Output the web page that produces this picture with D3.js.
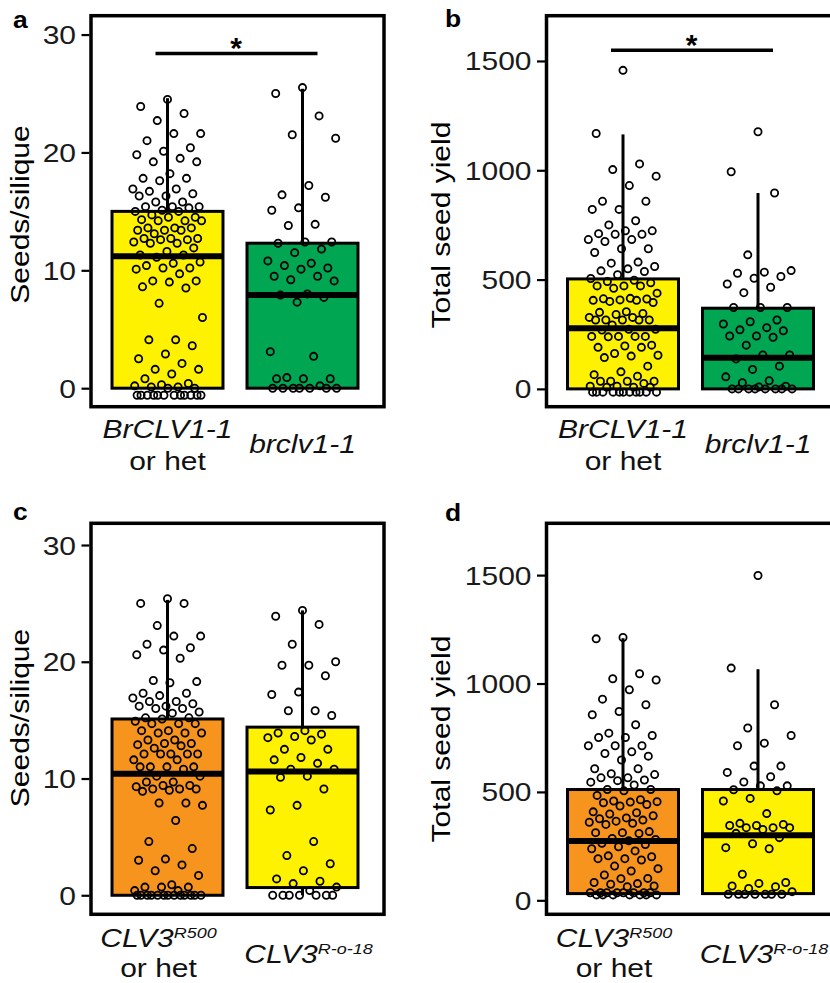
<!DOCTYPE html>
<html>
<head>
<meta charset="utf-8">
<script src="https://cdn.jsdelivr.net/npm/d3@7"></script>
<style>
  body { margin: 0; background: #fff; }
  svg { display: block; }
</style>
</head>
<body>
<div id="chart"></div>
<script>
const yellow = '#fff200'
const green = '#00a651'
const orange = '#f7941d'

const seedTicks = [0, 10, 20, 30]
const yieldTicks = [0, 500, 1000, 1500]

// genotype labels (main text, superscript, second line)
const clv1Labels = [
  {main: 'BrCLV1-1', sup: '', second: 'or het'},
  {main: 'brclv1-1', sup: '', second: ''}
]
const clv3Labels = [
  {main: 'CLV3', sup: 'R500', second: 'or het'},
  {main: 'CLV3', sup: 'R-o-18', second: ''}
]

// box stats: [low whisker, q1, median, q3, high whisker]
const aBoxes = [[0, 0, 11.2, 15.0, 24.6], [0, 0, 7.9, 12.3, 25.4]]
const bBoxes = [[0, 0, 277, 503, 1164], [0, 0, 142, 369, 896]]
const cBoxes = [[0, 0, 10.4, 15.1, 25.3], [0, 0.66, 10.6, 14.4, 24.4]]
const dBoxes = [[25, 31, 274, 511, 1209], [25, 31, 300, 511, 1066]]

// height of the significance bars
const aSig = 28.4
const bSig = 1549

// jittered points, as plotted
const aWildSeeds = [24.5, 23.9, 23.3, 22.7, 21.6, 21.6, 21.0, 20.4, 20.1, 19.8, 19.5, 19.2, 19.2, 18.2, 17.8, 17.8, 17.6, 16.9, 16.9, 16.7, 16.5, 16.3, 16.3, 15.8, 15.8, 15.4, 15.4, 15.4, 15.3, 15.1, 15.0, 15.0, 14.7, 14.5, 14.5, 14.3, 14.2, 14.2, 14.2, 13.6, 13.6, 13.6, 13.4, 13.4, 13.4, 13.1, 12.7, 12.7, 12.7, 12.6, 12.6, 12.4, 12.3, 12.3, 11.9, 11.6, 11.3, 11.3, 11.1, 10.7, 10.6, 10.4, 10.2, 10.2, 10.1, 9.7, 9.1, 9.1, 9.0, 8.6, 8.5, 7.2, 6.0, 4.1, 4.1, 3.6, 2.9, 2.5, 2.1, 1.6, 1.6, 1.2, 0.8, 0.4, 0.3, 0.2, 0.1, 0.1, 0, 0, -0.6, -0.6, -0.6, -0.6, -0.6, -0.6, -0.6, -0.6, -0.6, -0.6, -0.6, -0.6]
const aMutSeeds = [25.5, 25.0, 23.1, 21.5, 21.2, 17.2, 16.4, 16.2, 15.3, 15.1, 13.9, 13.8, 12.4, 12.4, 12.3, 11.8, 11.5, 10.8, 10.6, 10.4, 10.2, 10.1, 9.5, 9.5, 9.2, 9.1, 8.0, 7.9, 7.7, 7.3, 3.1, 2.7, 0.9, 0.8, 0.8, 0.8, 0.2, 0, 0, 0, 0, 0, 0, 0]
const bWildYield = [1457, 1168, 1029, 1003, 973, 930, 858, 858, 821, 821, 769, 750, 723, 723, 710, 707, 707, 683, 683, 674, 641, 641, 624, 580, 575, 560, 549, 540, 537, 522, 505, 497, 491, 485, 471, 471, 471, 460, 438, 414, 412, 411, 407, 405, 405, 400, 395, 353, 350, 345, 340, 327, 327, 315, 315, 315, 315, 315, 292, 273, 273, 269, 240, 240, 240, 240, 238, 200, 196, 190, 190, 162, 154, 150, 143, 104, 78, 65, 58, 35, 35, 35, 35, 25, 12, 12, 8, 8, 8, -15, -15, -15, -15, -15, -15, -15, -15, -15, -15, -15]
const bMutYield = [1176, 993, 896, 613, 541, 534, 529, 514, 506, 480, 465, 440, 372, 372, 372, 315, 307, 297, 280, 270, 266, 242, 242, 236, 200, 155, 155, 137, 104, 89, 55, 37, 28, 12, 9, 0, 0, 0, 0, 0, 0, 0, 0]
const cWildSeeds = [25.4, 25.0, 25.0, 23.1, 22.2, 22.2, 21.5, 21.2, 21.0, 20.6, 20.3, 18.4, 18.3, 18.2, 17.3, 17.3, 17.1, 16.9, 16.6, 16.6, 16.4, 16.2, 16.2, 16.0, 16.0, 15.7, 15.6, 15.2, 15.2, 15.1, 14.9, 14.7, 14.7, 14.7, 14.1, 14.1, 13.9, 13.9, 13.9, 13.3, 13.3, 13.0, 13.0, 12.9, 12.8, 12.6, 12.1, 12.1, 12.1, 12.1, 12.1, 11.6, 11.6, 11.0, 11.0, 11.0, 11.0, 10.8, 10.2, 10.2, 9.7, 9.7, 9.4, 9.4, 9.3, 9.1, 9.1, 9.1, 9.0, 8.9, 7.9, 7.9, 7.7, 6.4, 4.6, 4.0, 3.1, 3.0, 2.6, 2.1, 1.7, 0.9, 0.7, 0.7, 0.7, 0.4, 0.4, 0, 0, 0, 0, 0, 0, 0, 0, 0, 0, 0, 0, 0]
const cMutSeeds = [24.4, 23.9, 23.2, 21.5, 20.0, 19.7, 19.7, 18.8, 17.4, 17.2, 15.8, 15.8, 15.4, 14.1, 13.9, 13.8, 13.6, 13.5, 13.3, 12.5, 12.5, 11.8, 11.6, 11.3, 10.8, 10.8, 10.2, 10.1, 9.1, 7.7, 7.3, 4.6, 3.4, 2.7, 2.1, 1.4, 1.2, 1.0, 0.7, 0.4, 0, 0, 0, 0, 0, 0, 0]
const dWildYield = [1212, 1206, 1045, 1022, 1016, 971, 928, 902, 871, 856, 810, 771, 760, 751, 751, 713, 713, 713, 685, 677, 665, 647, 607, 607, 584, 580, 565, 565, 555, 552, 545, 532, 511, 511, 505, 484, 464, 458, 455, 453, 450, 442, 435, 408, 404, 398, 390, 380, 376, 370, 365, 360, 355, 350, 317, 312, 312, 308, 285, 281, 275, 263, 257, 247, 238, 228, 205, 201, 192, 192, 186, 158, 146, 135, 117, 101, 100, 82, 77, 74, 66, 63, 35, 35, 35, 35, 35, 35, 35, 35, 25, 25, 25, 25, 25, 25, 25]
const dMutYield = [1498, 1071, 902, 795, 760, 725, 713, 619, 619, 590, 570, 546, 528, 528, 510, 505, 470, 458, 400, 355, 350, 345, 345, 335, 335, 335, 327, 309, 289, 261, 243, 238, 120, 82, 78, 66, 63, 55, 40, 28, 28, 28, 28, 28, 28, 28]

const font = '"Liberation Sans", Arial, Helvetica, sans-serif'
const stretch = 1.2   // the figure's lettering is a little wider than Arial
const fontSize = 25
const frameW = 293
const frameH = 391

const panels = [
  {letter: 'a', left: 91, top: 15.7, yDomain: [-1.57, 31.6], ticks: seedTicks, title: 'Seeds/silique',
    titleX: 29, titleY: 214.5, boxes: aBoxes, points: [aWildSeeds, aMutSeeds], fills: [yellow, green],
    labels: clv1Labels, sig: aSig, letterPos: [13, 28]},
  {letter: 'b', left: 546.5, top: 15.7, yDomain: [-81.5, 1707], ticks: yieldTicks, title: 'Total seed yield',
    titleX: 450, titleY: 225, boxes: bBoxes, points: [bWildYield, bMutYield], fills: [yellow, green],
    labels: clv1Labels, sig: bSig, letterPos: [445, 27]},
  {letter: 'c', left: 91, top: 523.3, yDomain: [-1.63, 31.86], ticks: seedTicks, title: 'Seeds/silique',
    titleX: 29, titleY: 718, boxes: cBoxes, points: [cWildSeeds, cMutSeeds], fills: [orange, yellow],
    labels: clv3Labels, sig: null, letterPos: [13, 520]},
  {letter: 'd', left: 546.5, top: 523.3, yDomain: [-64.5, 1739], ticks: yieldTicks, title: 'Total seed yield',
    titleX: 450, titleY: 739, boxes: dBoxes, points: [dWildYield, dMutYield], fills: [orange, yellow],
    labels: clv3Labels, sig: null, letterPos: [445, 520.5]}
]

// spread points sideways without randomness
const jitter = i => (((i * 0.6180339887 + 0.5) % 1) - 0.5) * 0.52

const svg = d3.select('#chart').append('svg')
  .attr('width', 830)
  .attr('height', 983)
  .style('font-family', font)

panels.forEach(p => {
  const g = svg.append('g')
  const y = d3.scaleLinear().domain(p.yDomain).range([p.top + frameH, p.top])
  const x = d3.scalePoint().domain([0, 1]).range([p.left + 76.5, p.left + 211.5])
  const step = x(1) - x(0)
  const half = step * 0.411

  // y axis
  const ax = g.append('g')
    .attr('transform', `translate(${p.left - 1.5},0)`)
    .call(d3.axisLeft(y).tickValues(p.ticks).tickSize(8).tickFormat(d3.format('d')))
  ax.select('.domain').remove()
  ax.selectAll('.tick line').attr('stroke', '#000').attr('stroke-width', 2.2)
  ax.selectAll('.tick text')
    .attr('fill', '#1a1a1a')
    .attr('font-size', fontSize)
    .attr('font-family', font)
    .attr('x', -13.5 / stretch)
    .attr('dy', '0.36em')
    .attr('transform', `scale(${stretch},1)`)

  // boxes
  p.boxes.forEach((b, i) => {
    const cx = x(i)
    g.append('line')
      .attr('x1', cx).attr('x2', cx)
      .attr('y1', y(b[3])).attr('y2', y(b[4]))
      .attr('stroke', '#000').attr('stroke-width', 3)
    g.append('line')
      .attr('x1', cx).attr('x2', cx)
      .attr('y1', y(b[0])).attr('y2', y(b[1]))
      .attr('stroke', '#000').attr('stroke-width', 3)
    g.append('rect')
      .attr('x', cx - half)
      .attr('y', y(b[3]))
      .attr('width', half * 2)
      .attr('height', y(b[1]) - y(b[3]))
      .attr('fill', p.fills[i])
      .attr('stroke', '#000')
      .attr('stroke-width', 3)
    g.append('line')
      .attr('x1', cx - half).attr('x2', cx + half)
      .attr('y1', y(b[2])).attr('y2', y(b[2]))
      .attr('stroke', '#000').attr('stroke-width', 6)
  })

  // points
  p.points.forEach((vals, i) => {
    g.append('g').selectAll('circle')
      .data(vals)
      .join('circle')
        .attr('cx', (d, j) => x(i) + jitter(j) * step)
        .attr('cy', d => y(d))
        .attr('r', 3.6)
        .attr('fill', 'none')
        .attr('stroke', '#000')
        .attr('stroke-width', 1.8)
  })

  // frame
  g.append('rect')
    .attr('x', p.left).attr('y', p.top)
    .attr('width', frameW).attr('height', frameH)
    .attr('fill', 'none')
    .attr('stroke', '#000')
    .attr('stroke-width', 3.5)

  // significance bar
  if (p.sig !== null) {
    g.append('line')
      .attr('x1', x(0) - 12).attr('x2', x(1) + 15)
      .attr('y1', y(p.sig)).attr('y2', y(p.sig))
      .attr('stroke', '#000').attr('stroke-width', 3.5)
    g.append('text')
      .attr('x', (x(0) + x(1)) / 2 + 1)
      .attr('y', y(p.sig) + 5)
      .attr('text-anchor', 'middle')
      .attr('font-size', 30)
      .attr('font-weight', 'bold')
      .text('*')
  }

  // y title
  g.append('text')
    .attr('transform', `translate(${p.titleX},${p.titleY}) rotate(-90) scale(${stretch},1)`)
    .attr('text-anchor', 'middle')
    .attr('font-size', fontSize)
    .attr('fill', '#000')
    .text(p.title)

  // panel letter
  g.append('text')
    .attr('transform', `translate(${p.letterPos[0]},${p.letterPos[1]}) scale(1.15,1)`)
    .attr('font-size', 23)
    .attr('font-weight', 'bold')
    .text(p.letter)

  // x labels
  const bottom = p.top + frameH
  const withSup = !!p.labels[0].sup
  p.labels.forEach((lab, i) => {
    const dx = lab.sup ? (i === 0 ? -9 : 6) : 0
    const cx = x(i) + dx
    const firstY = lab.second ? bottom + (withSup ? 33 : 31) : bottom + (withSup ? 49 : 46.5)
    const secondY = bottom + (withSup ? 62.5 : 63.5)
    const t = g.append('text')
      .attr('transform', `translate(${cx},${firstY}) scale(${stretch},1)`)
      .attr('text-anchor', 'middle')
      .attr('font-size', fontSize)
      .attr('font-style', 'italic')
      .attr('fill', '#111')
    t.append('tspan').text(lab.main)
    if (lab.sup) {
      t.append('tspan').attr('font-size', 15).attr('dy', -9).text(lab.sup)
    }
    if (lab.second) {
      g.append('text')
        .attr('transform', `translate(${cx},${secondY}) scale(${stretch},1)`)
        .attr('text-anchor', 'middle')
        .attr('font-size', fontSize)
        .attr('fill', '#111')
        .text(lab.second)
    }
  })
})
</script>
</body>
</html>
